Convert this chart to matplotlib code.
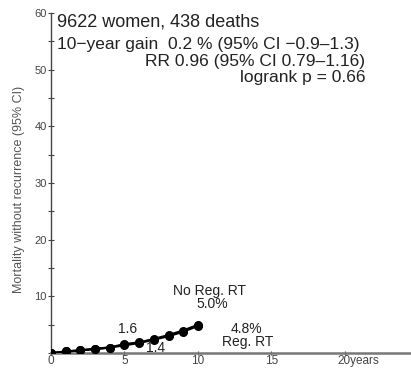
import matplotlib
matplotlib.use("Agg")
import matplotlib.pyplot as plt
import matplotlib.transforms as mtransforms
from matplotlib.ticker import MultipleLocator

plt.rcParams['font.family'] = ['Liberation Sans', 'DejaVu Sans']

years = [0, 1, 2, 3, 4, 5, 6, 7, 8, 9, 10]
no_reg_rt = [0.0, 0.3, 0.5, 0.8, 1.0, 1.6, 1.9, 2.5, 3.2, 4.0, 5.0]
reg_rt = [0.0, 0.3, 0.5, 0.7, 1.0, 1.4, 1.8, 2.4, 3.0, 3.8, 4.8]
y_ticks = [10, 20, 30, 40, 50, 60]
x_ticks = [0, 5, 10, 15, 20]
x_labels = ["0", "5", "10", "15", "20years"]

fig = plt.figure(figsize=(4.11, 3.71), dpi=100)
ax = fig.add_axes([0.124, 0.048, 0.876, 0.917])

ax.plot(years, no_reg_rt, color='black', lw=1.6, marker='o', ms=5.5, zorder=3)
ax.plot(years, reg_rt, color='black', lw=1.6, marker='o', ms=5.5, zorder=3)

ax.set_xlim(0, 24.5)
ax.set_ylim(0, 60)
ax.set_yticks(y_ticks)
ax.yaxis.set_minor_locator(MultipleLocator(5))
ax.set_xticks(x_ticks)
ax.set_xticklabels(x_labels)
ax.tick_params(axis='y', which='both', direction='inout', length=4, width=0.8,
               labelsize=8, pad=1, colors='#444444')
ax.tick_params(axis='x', which='both', direction='inout', length=3, width=0.8,
               labelsize=8.5, pad=0, colors='#444444')
# shift the "20years" label so that "20" sits on its tick
lbl = ax.get_xticklabels()[-1]
lbl.set_ha('left')
lbl.set_transform(lbl.get_transform() + mtransforms.ScaledTranslation(-7 / 100, 0, fig.dpi_scale_trans))

for s in ['top', 'right']:
    ax.spines[s].set_visible(False)
ax.spines['left'].set_color('#444444')
ax.spines['bottom'].set_color('#777777')
ax.spines['bottom'].set_linewidth(1.8)
ax.spines['left'].set_linewidth(1.0)

ax.set_ylabel("Mortality without recurrence (95% CI)", fontsize=9, color='#555555')
ax.yaxis.set_label_coords(-0.072, 0.48)

c = '#222222'
ax.text(0.4, 57.7, "9622 women, 438 deaths", fontsize=13, va='baseline', ha='left', color=c)
ax.text(0.4, 53.7, "10\u2212year gain  0.2 % (95% CI \u22120.9\u20131.3)", fontsize=12.5, va='baseline', ha='left', color=c)
ax.text(21.37, 50.6, "RR 0.96 (95% CI 0.79\u20131.16)", fontsize=12.5, va='baseline', ha='right', color=c)
ax.text(21.37, 47.9, "logrank p = 0.66", fontsize=12.5, va='baseline', ha='right', color=c)

fa = 10
ax.text(10.8, 10.9, "No Reg. RT", fontsize=fa, ha='center', va='center', color=c)
ax.text(11.0, 8.6, "5.0%", fontsize=fa, ha='center', va='center', color=c)
ax.text(5.2, 4.3, "1.6", fontsize=fa, ha='center', va='center', color=c)
ax.text(7.1, 1.0, "1.4", fontsize=fa, ha='center', va='center', color=c)
ax.text(13.3, 4.3, "4.8%", fontsize=fa, ha='center', va='center', color=c)
ax.text(13.4, 2.0, "Reg. RT", fontsize=fa, ha='center', va='center', color=c)

fig.savefig("out.png", dpi=100)
